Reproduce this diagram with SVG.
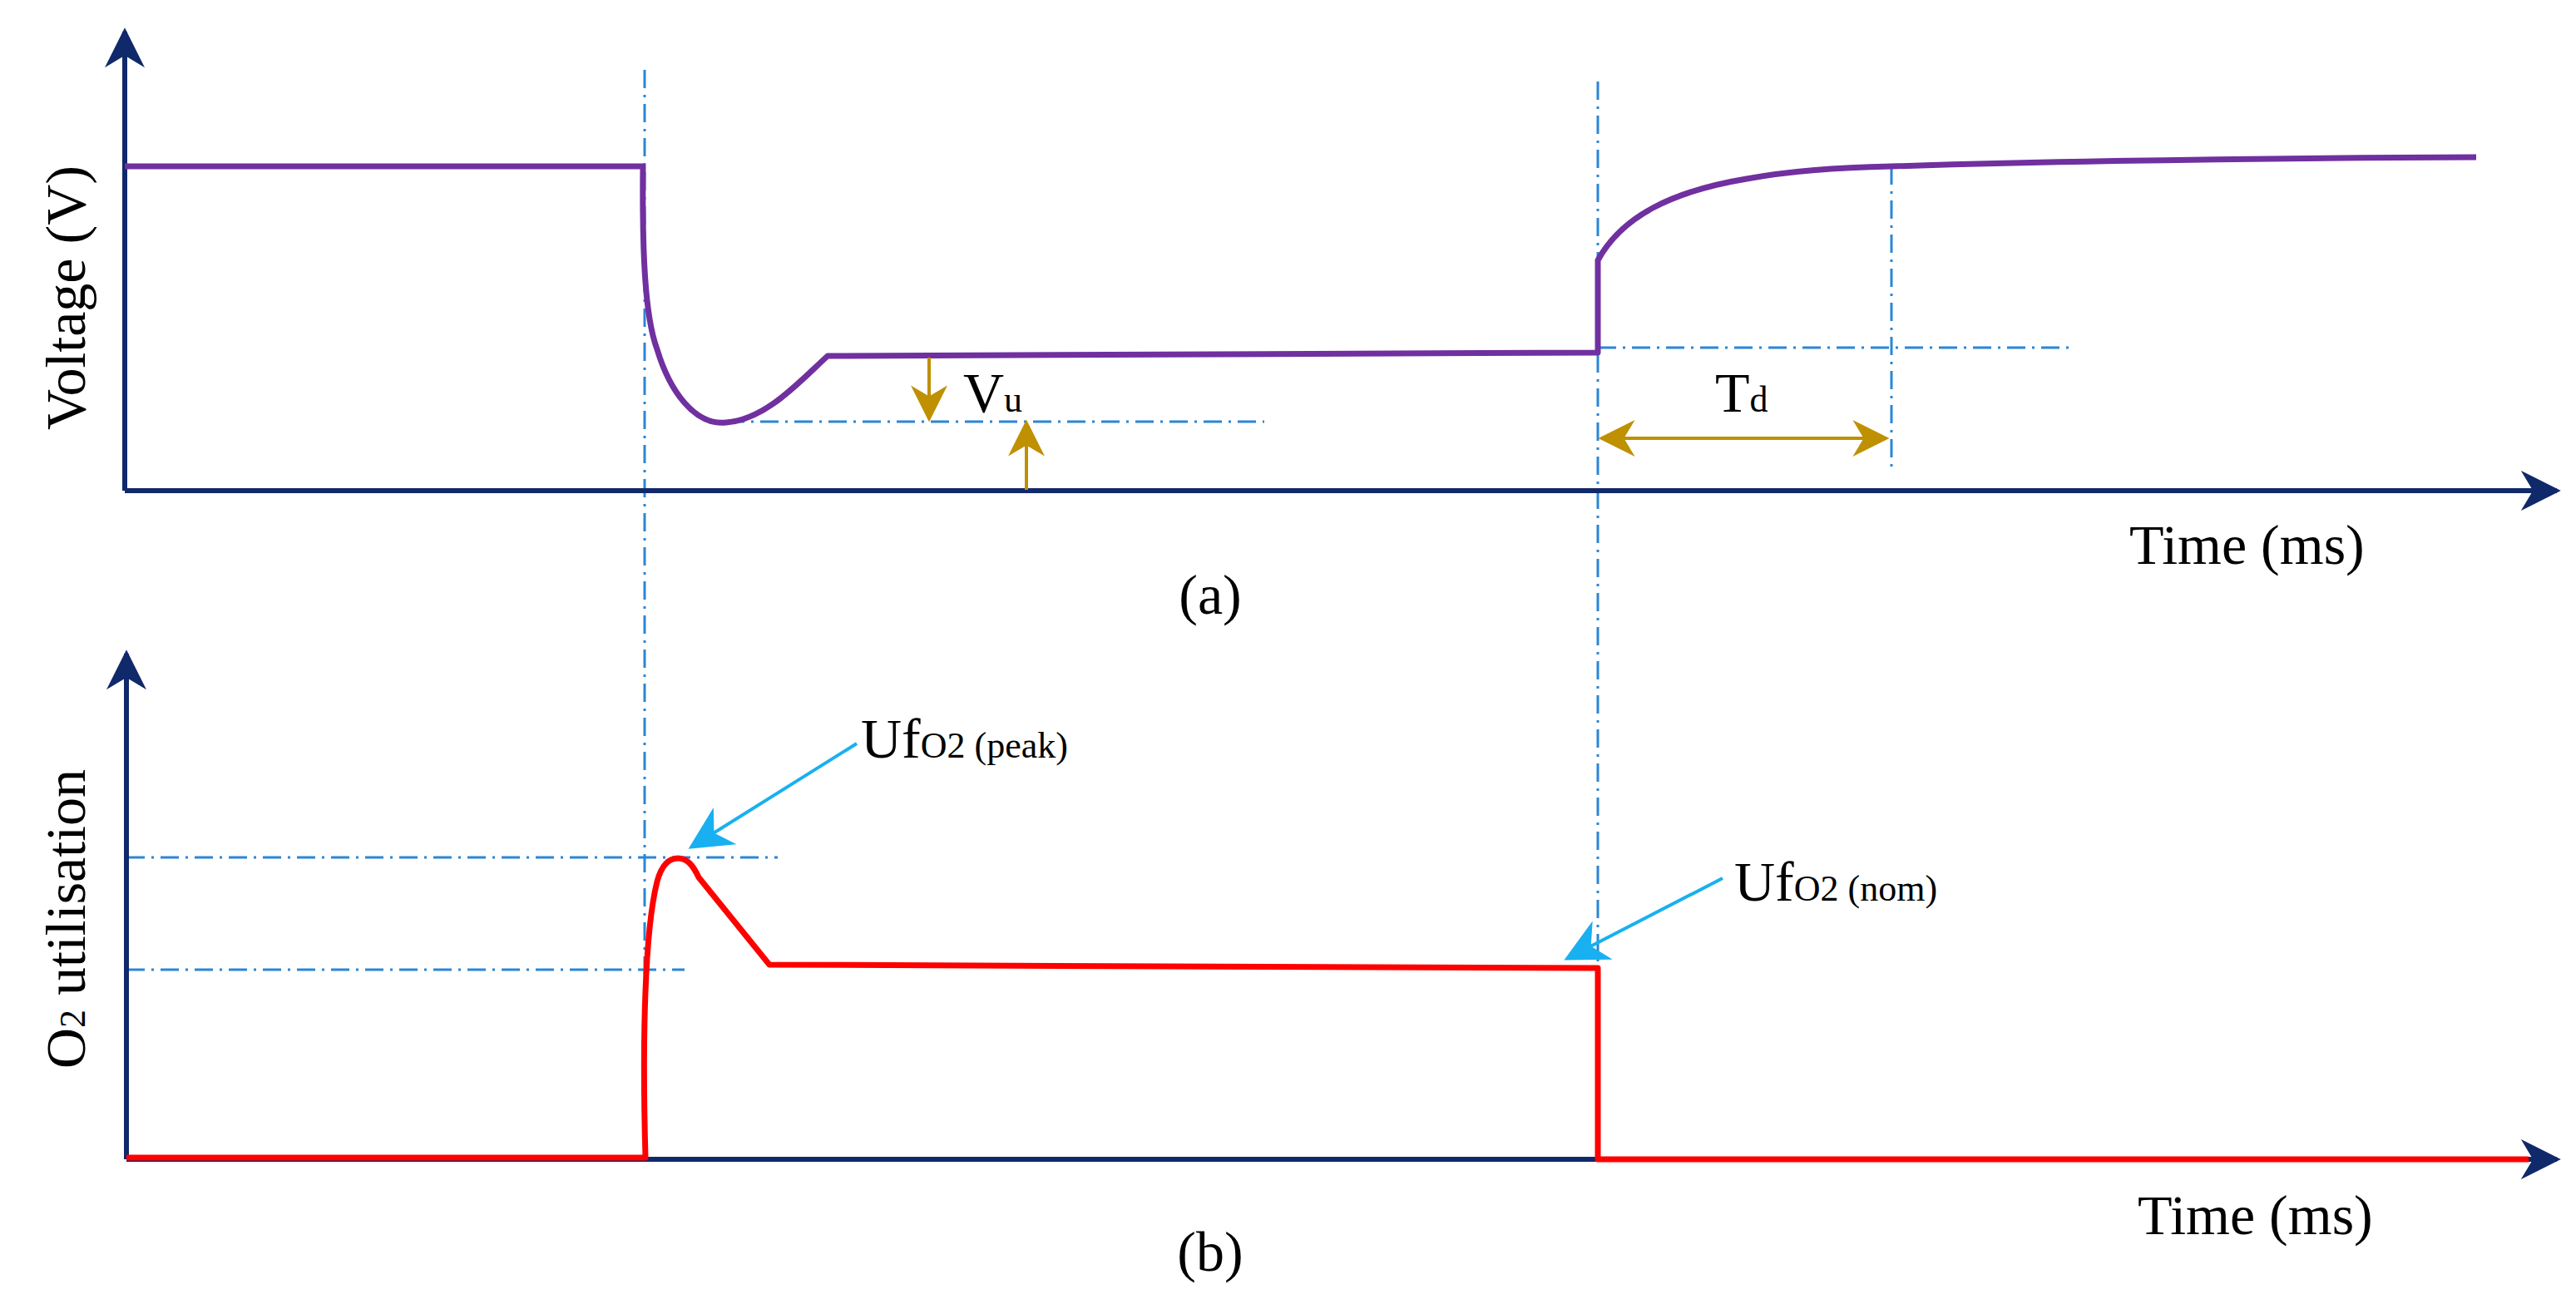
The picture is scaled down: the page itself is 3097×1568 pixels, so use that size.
<svg xmlns="http://www.w3.org/2000/svg" width="3097" height="1568" viewBox="0 0 3097 1568">
<style>
.ax{stroke:#10296a;stroke-width:6;fill:none}
.dash{stroke:#2a86d6;stroke-width:3;fill:none;stroke-dasharray:22 8 3 8}
.pur{stroke:#7030a0;stroke-width:7;fill:none;stroke-linejoin:round}
.red{stroke:#ff0000;stroke-width:7;fill:none;stroke-linejoin:round}
.gold{stroke:#bf9000;stroke-width:4;fill:none}
.cy{stroke:#18b0f0;stroke-width:4;fill:none}
text{font-family:"Liberation Serif",serif;fill:#000}
.lab{font-size:68px}
.sub{font-size:44px}
</style>
<defs>
<marker id="ah" viewBox="0 0 10 10" refX="9" refY="5" markerWidth="8" markerHeight="8" orient="auto" markerUnits="strokeWidth"><path d="M0,0 L10,5 L0,10 L3,5 Z" fill="#10296a"/></marker>
<marker id="gh" viewBox="0 0 10 10" refX="9" refY="5" markerWidth="11" markerHeight="11" orient="auto-start-reverse" markerUnits="strokeWidth"><path d="M0,0 L10,5 L0,10 L3,5 Z" fill="#bf9000"/></marker>
<marker id="ch" viewBox="0 0 10 10" refX="9" refY="5" markerWidth="13" markerHeight="13" orient="auto" markerUnits="strokeWidth"><path d="M0,0 L10,5 L0,10 L3,5 Z" fill="#18b0f0"/></marker>
</defs>
<g id="connectors">
<line class="dash" x1="775" y1="84" x2="775" y2="1290"/>
<line class="dash" x1="1921" y1="98" x2="1921" y2="1160"/>
<line class="dash" x1="873" y1="507" x2="1520" y2="507"/>
<line class="dash" x1="1921" y1="418" x2="2490" y2="418"/>
<line class="dash" x1="2274" y1="200" x2="2274" y2="565"/>
<line class="dash" x1="152" y1="1031" x2="935" y2="1031"/>
<line class="dash" x1="152" y1="1166" x2="823" y2="1166"/>
</g>
<g id="panel-a">
<line class="ax" x1="150" y1="590" x2="150" y2="38" marker-end="url(#ah)"/>
<line class="ax" x1="150" y1="590" x2="3074" y2="590" marker-end="url(#ah)"/>
<path class="pur" d="M150,200 L773,200 C772,300 775,380 790,420 C805,470 835,512 873,508 C920,505 960,460 995,428 L1921,424 L1921,313 C1950,260 2010,230 2100,215 C2160,204 2220,201 2274,200 C2500,193 2750,190 2977,189"/>
<line class="gold" x1="1117" y1="430" x2="1117" y2="503" marker-end="url(#gh)"/>
<line class="gold" x1="1234" y1="589" x2="1234" y2="509" marker-end="url(#gh)"/>
<line class="gold" x1="1926" y1="527" x2="2267" y2="527" marker-start="url(#gh)" marker-end="url(#gh)"/>
<text class="lab" x="1158" y="495">V<tspan class="sub">u</tspan></text>
<text class="lab" x="2062" y="495">T<tspan class="sub">d</tspan></text>
<text class="lab" x="2560" y="678">Time (ms)</text>
<text class="lab" x="1455" y="738" text-anchor="middle">(a)</text>
<text class="lab" x="0" y="0" text-anchor="middle" font-size="72" transform="translate(102,358) rotate(-90)">Voltage (V)</text>
</g>
<g id="panel-b">
<line class="ax" x1="152" y1="1394" x2="152" y2="786" marker-end="url(#ah)"/>
<line class="ax" x1="152" y1="1394" x2="3074" y2="1394" marker-end="url(#ah)"/>
<path class="red" d="M152,1392 L776,1392 C772,1250 775,1120 790,1060 C796,1038 805,1032 815,1032 C826,1032 833,1040 840,1055 L925,1160 L1921,1164 L1921,1394 L3040,1394"/>
<line class="cy" x1="1030" y1="894" x2="832" y2="1018" marker-end="url(#ch)"/>
<line class="cy" x1="2071" y1="1056" x2="1885" y2="1152" marker-end="url(#ch)"/>
<text class="lab" x="1035" y="911">Uf<tspan class="sub">O2 (peak)</tspan></text>
<text class="lab" x="2085" y="1083">Uf<tspan class="sub">O2 (nom)</tspan></text>
<text class="lab" x="2570" y="1484">Time (ms)</text>
<text class="lab" x="1455" y="1528" text-anchor="middle">(b)</text>
<text class="lab" x="0" y="0" text-anchor="middle" font-size="74" transform="translate(102,1105) rotate(-90)">O<tspan class="sub">2</tspan> utilisation</text>
</g>
</svg>
